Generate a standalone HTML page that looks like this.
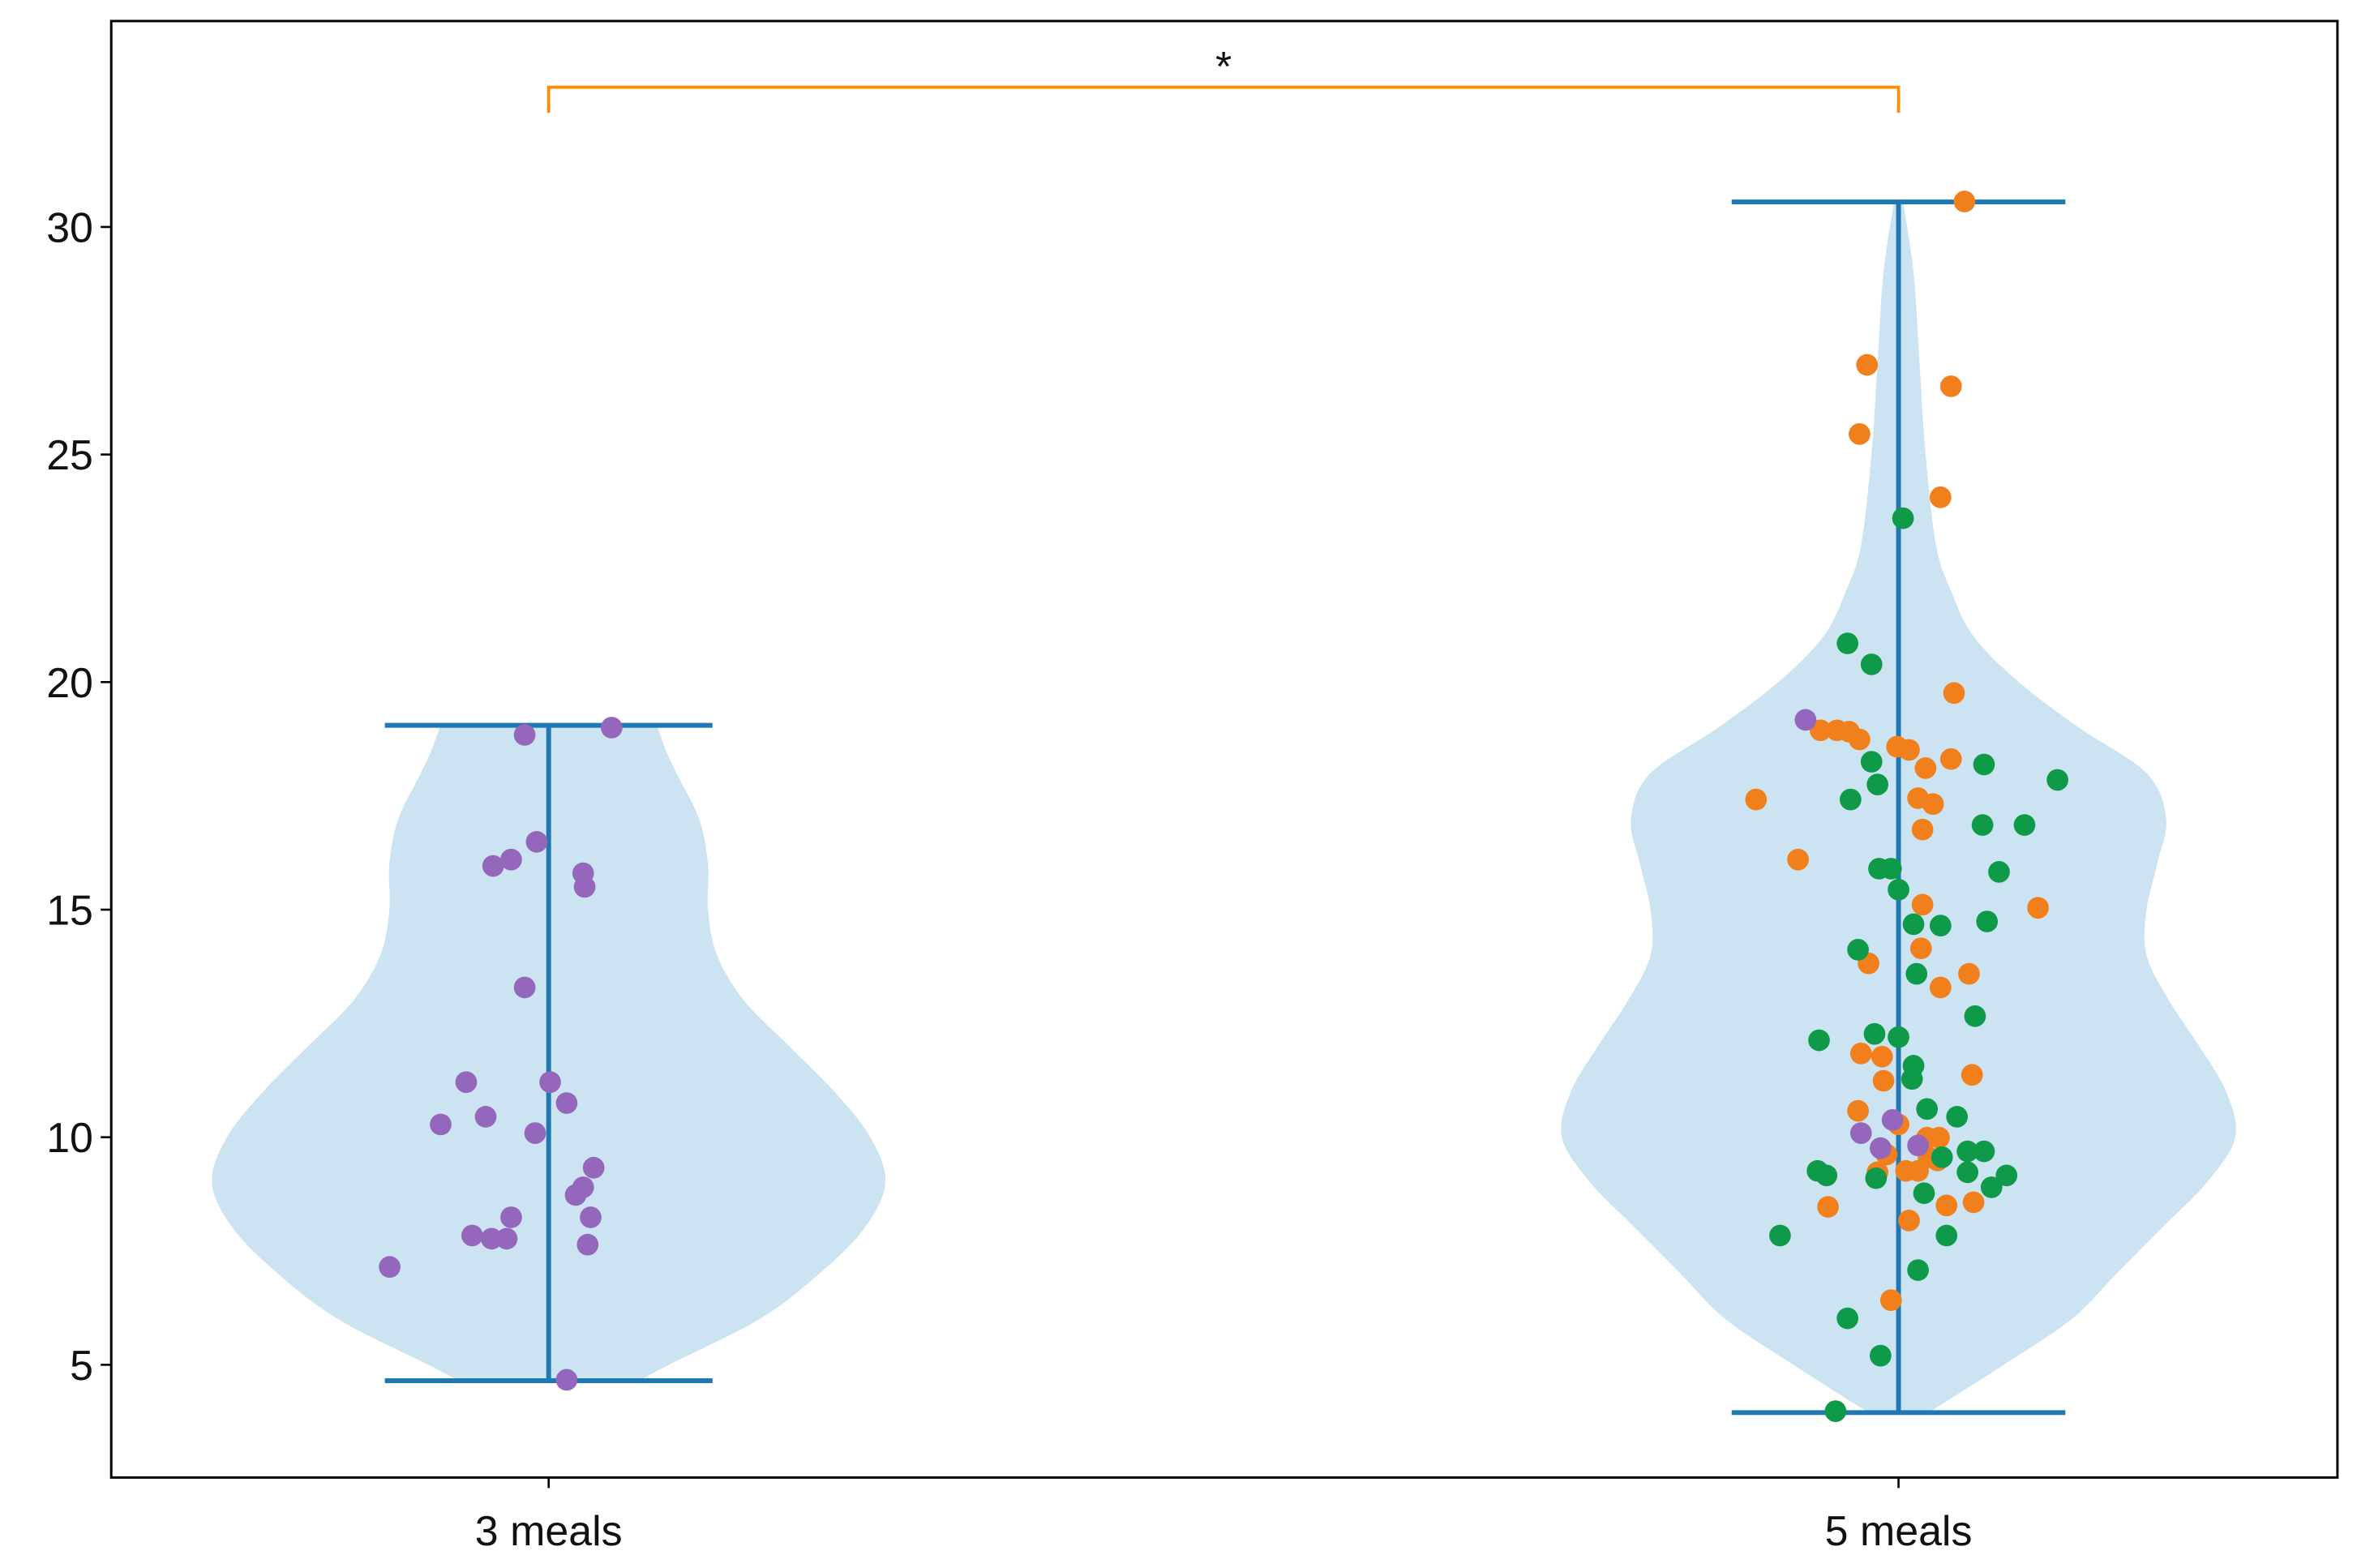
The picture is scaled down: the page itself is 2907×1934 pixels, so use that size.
<!DOCTYPE html>
<html><head><meta charset="utf-8"><style>
html,body{margin:0;padding:0;background:#fff}
svg{display:block}
text{font-family:"Liberation Sans","DejaVu Sans",sans-serif;fill:#111}
</style></head><body>
<svg id="chart" width="2907" height="1934" viewBox="0 0 1568 1043.2" preserveAspectRatio="none" xmlns="http://www.w3.org/2000/svg"></svg>
<script>
const categories = ["3 meals", "5 meals"];
const yTicks = [5, 10, 15, 20, 25, 30];
const violin1Levels = [4.65,5,6,7,8,9,10,11,12,13,14,15,16,17,18,18.5,19.05];
const violin1Widths = [60,80,140,180,210,224,214,190,160,130,112,106,106,100,85,78,72];
const violin2Levels = [3.95,5,6,7,8,9,10,11,12,13,14,15,16,17,18,19,20,21,22,23,25,27,29,30.55];
const violin2Widths = [20,70,115,145,175,205,224,218,200,180,165,165,172,178,165,120,80,50,35,25,18,14,10,3];
const g1Values = [19.0,18.84,16.49,16.10,15.96,15.80,15.50,13.29,11.21,11.21,10.75,10.28,10.45,10.09,9.33,8.90,8.73,8.24,8.24,7.84,7.77,7.77,7.64,7.15,4.67];
const g1Jitter = [42,-16,-8,-25,-37,23,24,-16,-55,1,12,-72,-42,-9,30,23,18,-25,28,-51,-38,-28,26,-106,12];
const orangeValues = [30.56,26.97,26.50,25.45,24.06,19.76,18.94,18.94,18.91,18.74,18.58,18.51,18.31,18.11,17.42,17.45,17.32,16.76,16.10,15.04,15.11,14.15,13.82,13.59,13.29,11.84,11.77,11.24,11.37,10.58,10.28,9.99,9.99,9.62,9.56,9.26,9.49,9.23,9.26,8.47,8.50,8.57,8.17,6.42];
const orangeJitter = [44,-21,35,-26,28,37,-52,-41,-33,-26,-1,7,35,18,-95,13,23,16,-67,93,16,15,-20,47,28,-25,-11,-10,49,-27,0,19,27,-8,20,5,26,-14,13,-47,32,50,7,-5];
const greenValues = [23.60,20.85,20.39,18.25,18.19,17.85,17.75,17.42,16.86,16.86,15.90,15.90,15.83,15.44,14.68,14.65,14.74,14.12,13.59,12.66,12.13,12.27,12.20,11.57,11.28,10.62,10.45,9.69,9.69,9.56,9.26,9.16,9.23,9.16,9.10,8.77,8.90,7.84,7.84,7.08,6.02,5.20,3.98];
const greenJitter = [3,-34,-18,-18,57,106,-14,-32,56,84,-13,-5,67,0,10,28,59,-27,12,51,-53,-16,0,10,9,19,39,46,57,29,-54,-48,46,72,-15,17,62,-79,32,13,-34,-12,-42];
const purple2Values = [19.17,10.38,10.09,9.76,9.82];
const purple2Jitter = [-62,-4,-25,-12,13];
const ranges = [[4.65,19.05],[3.95,30.55]];
const bracketValue = 33.07;

const NS="http://www.w3.org/2000/svg";
const svg=document.getElementById('chart');
const L=74,R=1555,T=14,B=983;
function y(v){return 908-(v-5)*30.28;}
function x(c){return 365+(c)*898;}
function el(tag,attrs,parent){const e=document.createElementNS(NS,tag);for(const k in attrs)e.setAttribute(k,attrs[k]);(parent||svg).appendChild(e);return e;}
function smooth(pts){
  let d='M'+pts[0][0]+','+pts[0][1];
  for(let i=0;i<pts.length-1;i++){
    const p0=pts[Math.max(0,i-1)],p1=pts[i],p2=pts[i+1],p3=pts[Math.min(pts.length-1,i+2)];
    const c1=[p1[0]+(p2[0]-p0[0])/6,p1[1]+(p2[1]-p0[1])/6];
    const c2=[p2[0]-(p3[0]-p1[0])/6,p2[1]-(p3[1]-p1[1])/6];
    d+=' C'+c1[0]+','+c1[1]+' '+c2[0]+','+c2[1]+' '+p2[0]+','+p2[1];
  }
  return d;
}
[[violin1Levels,violin1Widths],[violin2Levels,violin2Widths]].forEach((vw,i)=>{
  const lv=vw[0],w=vw[1],cx=x(i);
  const right=lv.map((v,k)=>[cx+w[k],y(v)]);
  const left=lv.map((v,k)=>[cx-w[k],y(v)]).reverse();
  const d=smooth(right)+' L'+left[0][0]+','+left[0][1]+' '+smooth(left).slice(1).replace(/^[^C]*/,'')+' Z';
  const p=el('path',{d:d,fill:'#cce3f1'});
  
  
});
ranges.forEach((r,i)=>{
  const cx=x(i),hw=i==0?109:111;
  const g=el('g',{stroke:'#1f77b4','stroke-width':3.2});
  
  
  el('line',{x1:cx,x2:cx,y1:y(r[0]),y2:y(r[1])},g);
  el('line',{x1:cx-hw,x2:cx+hw,y1:y(r[0]),y2:y(r[0])},g);
  el('line',{x1:cx-hw,x2:cx+hw,y1:y(r[1]),y2:y(r[1])},g);
});
function dots(vals,jit,cat,color,name){
  vals.forEach((v,k)=>{
    const c=el('circle',{cx:x(cat+jit[k]/900),cy:y(v),r:7.2,fill:color});
    
    
  });
}
dots(g1Values,g1Jitter,0,'#9467bd','point-3-meals');
dots(orangeValues,orangeJitter,1,'#f07f1c','point-5-meals-orange');
dots(greenValues,greenJitter,1,'#0e9a48','point-5-meals-green');
dots(purple2Values,purple2Jitter,1,'#9467bd','point-5-meals-purple');

const bk=el('path',{d:'M'+x(0)+','+(y(bracketValue)+17)+' V'+y(bracketValue)+' H'+x(1)+' V'+(y(bracketValue)+17),fill:'none',stroke:'#ff8c00','stroke-width':2});


const st=el('text',{x:(x(0)+x(1))/2,y:y(bracketValue)-4,'text-anchor':'middle','font-size':28});
st.textContent='*';



const fr=el('rect',{x:L,y:T,width:R-L,height:B-T,fill:'none',stroke:'#000','stroke-width':1.6});


yTicks.forEach(t=>{
  const tl=el('line',{x1:L-7,x2:L,y1:y(t),y2:y(t),stroke:'#000','stroke-width':1.4});
  
  
  const tx=el('text',{x:L-12,y:y(t)+10,'text-anchor':'end','font-size':28});
  tx.textContent=t;
  
  
});
categories.forEach((c,i)=>{
  const tl=el('line',{x1:x(i),x2:x(i),y1:B,y2:B+7,stroke:'#000','stroke-width':1.4});
  
  
  const tx=el('text',{x:x(i),y:B+45,'text-anchor':'middle','font-size':28});
  tx.textContent=c;
  
  
});
</script>
</body></html>
